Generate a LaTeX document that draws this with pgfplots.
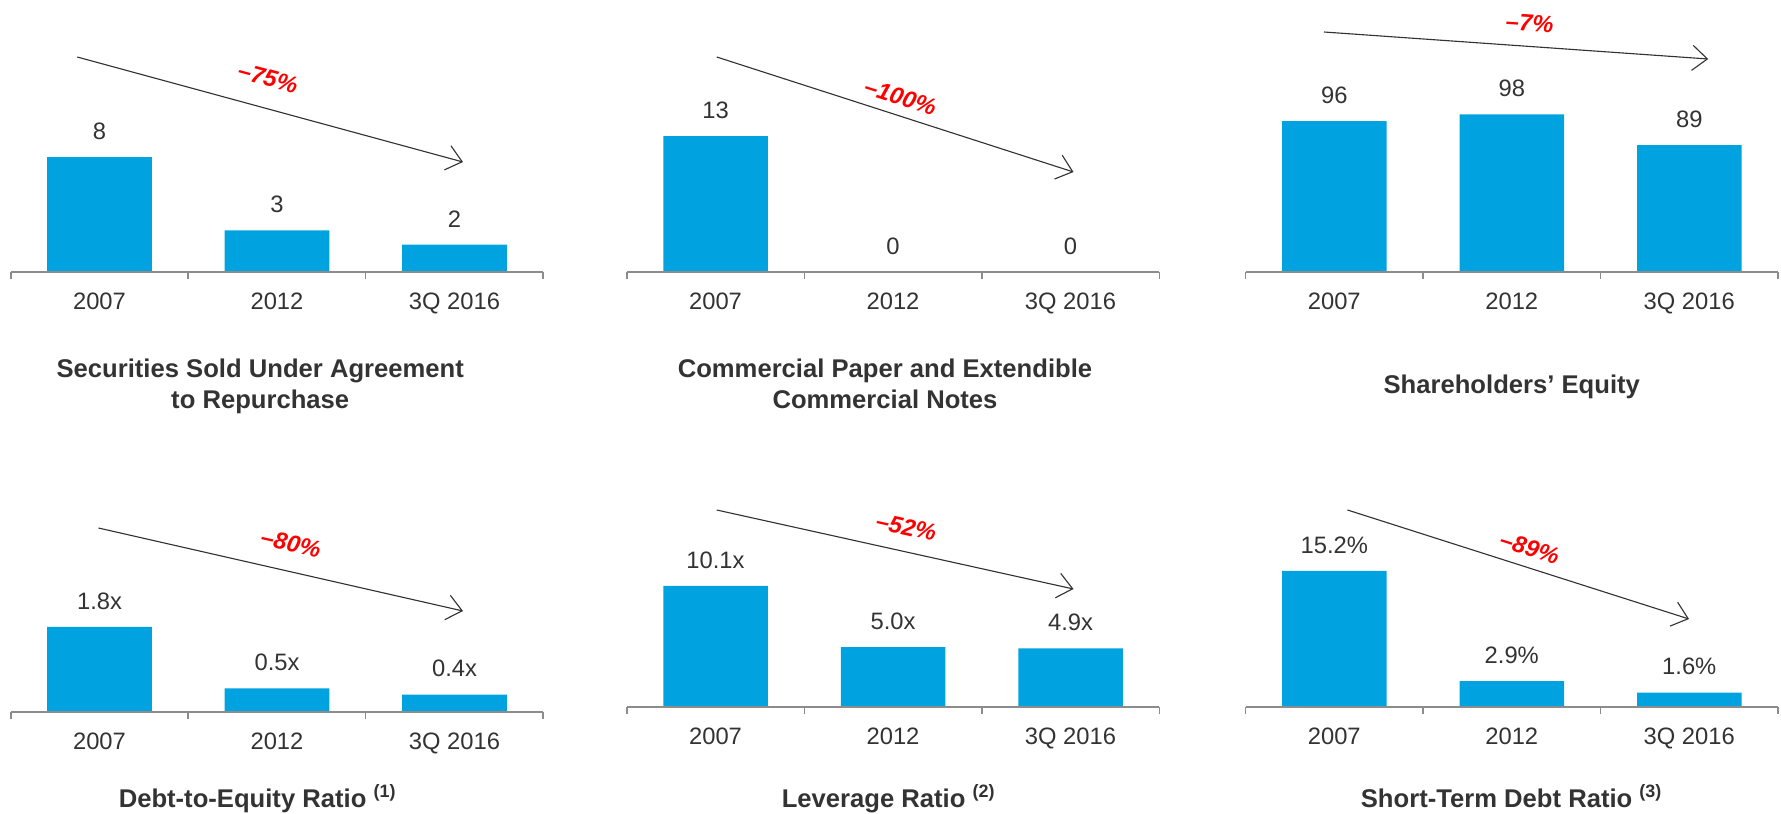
\documentclass[border=0pt]{standalone}
\usepackage{fontspec}
\setmainfont{Liberation Sans}
\usepackage{pgfplots}
\pgfplotsset{compat=1.18}
\usetikzlibrary{arrows.meta}
\definecolor{barblue}{HTML}{00A3E0}
\definecolor{axisgray}{HTML}{8C8C8C}
\definecolor{textgray}{HTML}{333333}
\definecolor{arrowgray}{HTML}{333333}
\definecolor{pctred}{HTML}{FF0000}
\pgfplotsset{
  panel/.style={
    scale only axis,
    width=213pt,
    anchor=south west,
    ybar, bar width=41.8pt,
    xmin=-0.5, xmax=2.5, ymin=0,
    enlargelimits=false,
    axis x line=bottom, axis y line=none,
    x axis line style={draw=axisgray, line width=0.7pt, -},
    xtick={0,1,2},
    xticklabels={\textnormal{2007},\textnormal{2012},\textnormal{3Q 2016}},
    major tick length=0pt,
    minor xtick={-0.5,0.5,1.5,2.5},
    minor tick length=2.8pt,
    tick align=outside,
    minor tick style={draw=axisgray, line width=0.6pt},
    xticklabel style={anchor=base, yshift=-15pt, text=textgray, font=\fontsize{9.5}{11}\selectfont},
    point meta=explicit symbolic,
    nodes near coords={\pgfplotspointmeta},
    every node near coord/.append style={inner sep=0pt, yshift=6.8pt, text=textgray, font=\fontsize{9.5}{11}\selectfont},
    xlabel style={at={(axis description cs:0.5,0)}, anchor=base, align=center, text=textgray, font=\fontsize{10.25}{12.4}\selectfont\bfseries},
    axis on top,
  },
  bars/.style={fill=barblue, draw=none},
}
\tikzset{
  pct/.style={text=pctred, font=\fontsize{9.5}{10}\selectfont\bfseries\itshape, inner sep=0pt},
  trend/.style={draw=arrowgray, line width=0.45pt, -{Straight Barb[length=6pt, width=10pt]}},
}
\begin{document}
\begin{tikzpicture}[font=\fontsize{9.5}{11}\selectfont]
\path[use as bounding box] (0,0) rectangle (712.4pt,325.2pt);

% Top left
\begin{axis}[panel, at={(4.3pt,216.4pt)}, height=69pt, ymax=12,
  xlabel={Securities Sold Under Agreement\\to Repurchase},
  xlabel style={yshift=-54.4pt, xshift=-6.7pt}]
\addplot[bars] coordinates {(0,8.0) [8] (1,2.9) [3] (2,1.9) [2]};
\end{axis}

% Top middle
\begin{axis}[panel, at={(250.7pt,216.4pt)}, height=71.1pt, ymax=17,
  xlabel={Commercial Paper and Extendible\\Commercial Notes},
  xlabel style={yshift=-54.4pt, xshift=-3.2pt}]
\addplot[bars] coordinates {(0,13.0) [13] (1,0) [0] (2,0) [0]};
\end{axis}

% Top right
\begin{axis}[panel, at={(498.2pt,216.4pt)},
  height=86.4pt, ymin=52, ymax=115,
  xlabel={Shareholders’ Equity},
  xlabel style={yshift=-48.4pt}]
\addplot[bars] coordinates {(0,96) [96] (1,98) [98] (2,89) [89]};
\end{axis}

% Bottom left
\begin{axis}[panel, at={(4.3pt,40.4pt)}, height=52.9pt, ymax=2.8,
  xlabel={Debt-to-Equity Ratio \textsuperscript{(1)}},
  xlabel style={yshift=-38pt, xshift=-7.7pt}]
\addplot[bars] coordinates {(0,1.8) [1.8x] (1,0.5) [0.5x] (2,0.37) [0.4x]};
\end{axis}

% Bottom middle
\begin{axis}[panel, at={(250.7pt,42.4pt)}, height=64.7pt, ymax=13.5,
  xlabel={Leverage Ratio \textsuperscript{(2)}},
  xlabel style={yshift=-40pt, xshift=-1.7pt}]
\addplot[bars] coordinates {(0,10.1) [10.1x] (1,5.0) [5.0x] (2,4.9) [4.9x]};
\end{axis}

% Bottom right
\begin{axis}[panel, at={(498.2pt,42.4pt)},
  height=71.6pt, ymax=20,
  xlabel={Short-Term Debt Ratio \textsuperscript{(3)}},
  xlabel style={yshift=-40pt}]
\addplot[bars] coordinates {(0,15.2) [15.2\%] (1,2.9) [2.9\%] (2,1.6) [1.6\%]};
\end{axis}

% trend arrows and change labels
\draw[trend] (30.9pt,302.4pt) -- (185.2pt,260.4pt);
\node[pct, rotate=-15.2] at (107.2pt,294pt) {–75\%};
\draw[trend] (286.7pt,302.4pt) -- (429.4pt,256.4pt);
\node[pct, rotate=-17.9] at (360.2pt,286.4pt) {–100\%};
\draw[trend] (529.6pt,312.4pt) -- (683.3pt,301.6pt);
\node[pct, rotate=-4] at (611.9pt,316pt) {–7\%};
\draw[trend] (39.4pt,114pt) -- (185.2pt,80.8pt);
\node[pct, rotate=-12.8] at (116.4pt,108pt) {–80\%};
\draw[trend] (286.7pt,121.2pt) -- (429.4pt,89.6pt);
\node[pct, rotate=-12.5] at (362.5pt,114.4pt) {–52\%};
\draw[trend] (539pt,121.2pt) -- (675.6pt,77.6pt);
\node[pct, rotate=-17.7] at (611.9pt,106pt) {–89\%};
\end{tikzpicture}
\end{document}
